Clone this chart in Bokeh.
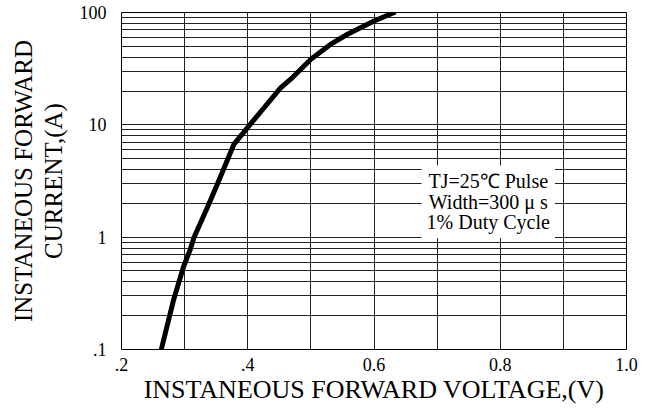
from bokeh.plotting import figure
from bokeh.models import FixedTicker, Label, Range1d
from bokeh.embed import file_html
from bokeh.resources import INLINE

# Data (forward voltage V vs forward current A)
voltage = [0.263, 0.282, 0.298, 0.309, 0.315, 0.336, 0.352, 0.378, 0.400,
           0.452, 0.468, 0.500, 0.531, 0.558, 0.600, 0.634]
current = [0.10, 0.27, 0.54, 0.78, 1.0, 1.84, 2.97, 6.7, 9.5,
           21.3, 25.5, 38.4, 52.0, 64.0, 84.0, 101.0]

x_ticks = [0.2, 0.3, 0.4, 0.5, 0.6, 0.7, 0.8, 0.9, 1.0]
x_tick_labels = [".2", "", ".4", "", "0.6", "", "0.8", "", "1.0"]
y_ticks = [0.1, 1, 10, 100]
y_tick_labels = [".1", "1", "10", "100"]
y_minor = [0.2, 0.3, 0.4, 0.5, 0.6, 0.7, 0.8, 0.9,
           2, 3, 4, 5, 6, 7, 8, 9,
           20, 30, 40, 50, 60, 70, 80, 90]

x_title = "INSTANEOUS FORWARD VOLTAGE,(V)"
y_title = "INSTANEOUS FORWARD\nCURRENT,(A)"
note = "TJ=25\u2103 Pulse\nWidth=300 \u03bc s\n1% Duty Cycle"

FONT = "Liberation Serif"
GRID = "#222222"

p = figure(width=652, height=410, y_axis_type="log",
           x_range=Range1d(0.2, 1.0), y_range=Range1d(0.1, 100),
           output_backend="svg", toolbar_location=None,
           min_border_left=121, min_border_right=26,
           min_border_top=12, min_border_bottom=61)

p.background_fill_color = "white"
p.border_fill_color = "white"
p.outline_line_color = "black"
p.outline_line_width = 1

p.xaxis.ticker = FixedTicker(ticks=x_ticks)
p.xaxis.major_label_overrides = {t: l for t, l in zip(x_ticks, x_tick_labels)}
p.yaxis.ticker = FixedTicker(ticks=y_ticks, minor_ticks=y_minor)
p.yaxis.major_label_overrides = {t: l for t, l in zip(y_ticks, y_tick_labels)}

for ax in (p.xaxis, p.yaxis):
    ax.axis_line_color = None
    ax.major_tick_line_color = None
    ax.minor_tick_line_color = None
    ax.major_tick_out = 0
    ax.major_tick_in = 0
    ax.minor_tick_out = 0
    ax.minor_tick_in = 0
    ax.major_label_text_font = FONT
    ax.major_label_text_font_size = "18px"
    ax.major_label_text_color = "black"
    ax.axis_label_text_font = FONT
    ax.axis_label_text_font_style = "normal"
    ax.axis_label_text_color = "black"
p.xaxis.major_label_standoff = 8
p.yaxis.major_label_standoff = 15
p.xaxis.axis_label = x_title
p.xaxis.axis_label_text_font_size = "26px"
p.xaxis.axis_label_standoff = 1
p.yaxis.axis_label = y_title
p.yaxis.axis_label_text_font_size = "25px"
p.yaxis.axis_label_standoff = 10
p.yaxis.axis_label_text_line_height = 1.1

p.xgrid.grid_line_color = GRID
p.xgrid.grid_line_width = 1
p.ygrid.grid_line_color = GRID
p.ygrid.grid_line_width = 1
p.ygrid.minor_grid_line_color = GRID
p.ygrid.minor_grid_line_width = 1

p.line(voltage, current, line_color="black", line_width=5)

# Note box
p.add_layout(Label(x=0.781, y=2.07, text=note, text_align="center",
                   text_baseline="middle", text_font=FONT,
                   text_font_size="20px", text_color="black",
                   text_line_height=0.92,
                   background_fill_color="white", padding=5))

open("out.html", "w").write(file_html(p, INLINE))
